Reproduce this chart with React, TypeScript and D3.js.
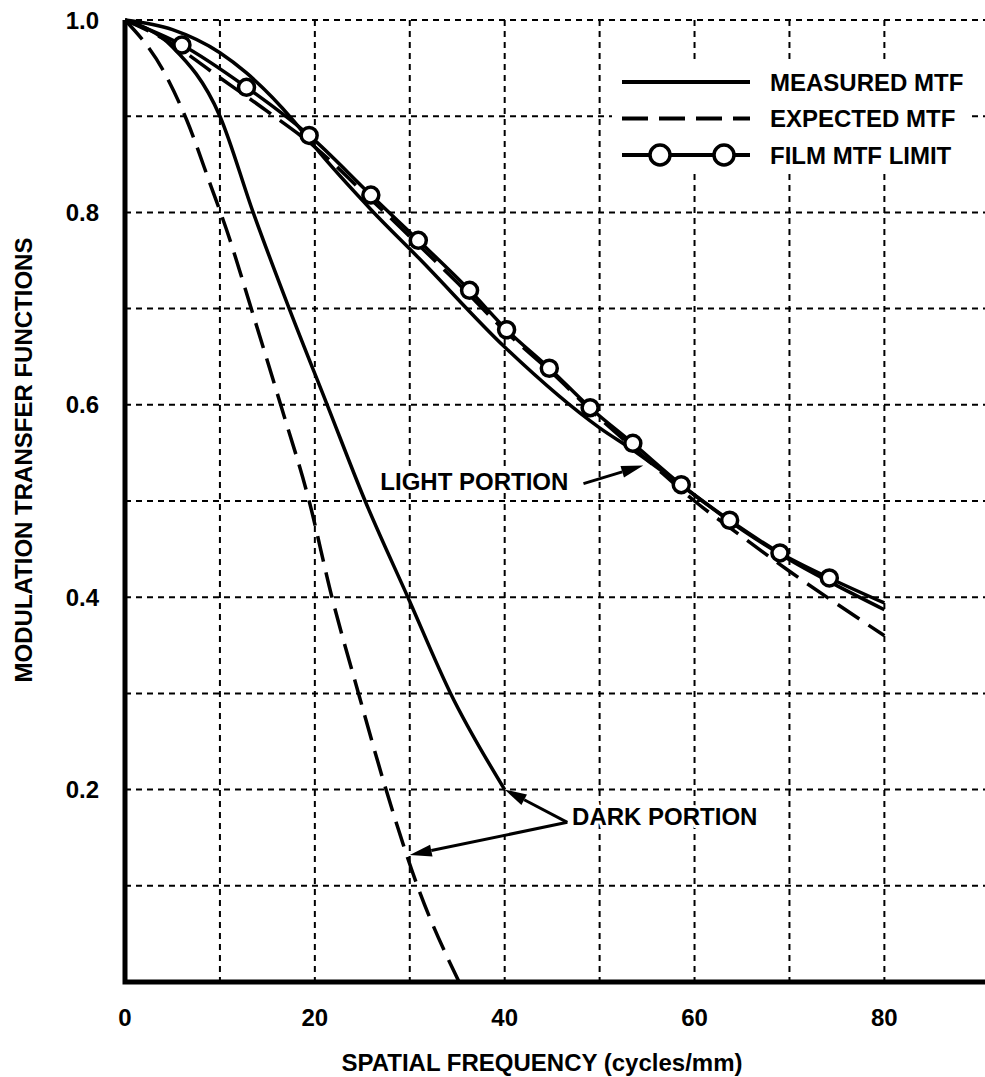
import { useEffect, useRef } from "react";
import * as d3 from "d3";

type Pt = [number, number];

// film MTF limit, circles sit on every point but the two ends
const filmLimit: Pt[] = [
  [0, 1.0], [6, 0.974], [12.8, 0.93], [19.4, 0.88], [25.9, 0.818], [30.9, 0.771],
  [36.3, 0.719], [40.2, 0.678], [44.7, 0.638], [49, 0.597], [53.5, 0.56],
  [58.6, 0.517], [63.7, 0.48], [69, 0.446], [74.2, 0.42], [80, 0.394],
];

const measuredLight: Pt[] = [
  [0, 1.0], [5, 0.99], [10, 0.966], [12.8, 0.945], [17.7, 0.896], [20, 0.868],
  [26, 0.802], [31, 0.752], [40, 0.66], [50, 0.576], [53.5, 0.553], [60, 0.506],
  [65, 0.47], [70, 0.439], [75, 0.412], [80, 0.387],
];

const expectedLight: Pt[] = [
  [0, 1.0], [5, 0.975], [10, 0.94], [15, 0.905], [20, 0.868], [25, 0.822],
  [30, 0.775], [35, 0.727], [40, 0.677], [45, 0.633], [50, 0.586], [55, 0.543],
  [60, 0.5], [65, 0.463], [70, 0.427], [75, 0.393], [80, 0.36],
];

const measuredDark: Pt[] = [
  [0, 1.0], [5, 0.972], [10, 0.9], [13.5, 0.8], [17.3, 0.7], [21.3, 0.6],
  [25.3, 0.5], [29.8, 0.4], [34.3, 0.3], [40, 0.2],
];

const expectedDark: Pt[] = [
  [0, 1.0], [4, 0.948], [6.5, 0.896], [9.1, 0.826], [10.7, 0.782], [13.3, 0.7],
  [16.4, 0.6], [19.4, 0.5], [21.8, 0.4], [24.6, 0.3], [27.5, 0.2], [30.8, 0.1],
  [35.2, 0],
];

const xTicks = [0, 20, 40, 60, 80];
const yTicks = [0.2, 0.4, 0.6, 0.8, 1.0];
const xGrid = [10, 20, 30, 40, 50, 60, 70, 80];
const yGrid = [0.1, 0.2, 0.3, 0.4, 0.5, 0.6, 0.7, 0.8, 0.9, 1.0];
const legendLabels = ["MEASURED MTF", "EXPECTED MTF", "FILM MTF LIMIT"];

const FONT = "'Liberation Sans', Arial, Helvetica, sans-serif";
const DASH = "26,11";

function MtfChart({ width = 985, height = 1077 }) {
  const svgRef = useRef<SVGSVGElement | null>(null);

  useEffect(() => {
    if (!svgRef.current) return;
    const svg = d3.select(svgRef.current);
    svg.selectAll("*").remove();

    const x = d3.scaleLinear().domain([0, 90.6]).range([125, 985]);
    const y = d3.scaleLinear().domain([0, 1]).range([982, 20]);

    const line = d3
      .line<Pt>()
      .x((d) => x(d[0]))
      .y((d) => y(d[1]))
      .curve(d3.curveMonotoneX);

    // dotted grid
    const grid = svg.append("g").attr("stroke", "#000").attr("stroke-width", 2).attr("stroke-dasharray", "6,5");
    grid.selectAll("line.v").data(xGrid).join("line").attr("class", "v")
      .attr("x1", (d) => x(d)).attr("x2", (d) => x(d))
      .attr("y1", y(1)).attr("y2", y(0));
    grid.selectAll("line.h").data(yGrid).join("line").attr("class", "h")
      .attr("x1", x(0)).attr("x2", width)
      .attr("y1", (d) => y(d)).attr("y2", (d) => y(d));

    // curves
    const curves = svg.append("g").attr("fill", "none").attr("stroke", "#000").attr("stroke-width", 3.5);
    curves.append("path").attr("d", line(expectedLight)).attr("stroke-dasharray", DASH);
    curves.append("path").attr("d", line(expectedDark)).attr("stroke-dasharray", DASH);
    curves.append("path").attr("d", line(measuredDark));
    curves.append("path").attr("d", line(measuredLight));
    curves.append("path").attr("d", line(filmLimit));

    svg.append("g").selectAll("circle").data(filmLimit.slice(1, -1)).join("circle")
      .attr("cx", (d) => x(d[0])).attr("cy", (d) => y(d[1])).attr("r", 8)
      .attr("fill", "#fff").attr("stroke", "#000").attr("stroke-width", 3.5);

    // axes
    svg.append("path")
      .attr("d", `M${x(0)},${y(1)}V${y(0)}H${width}`)
      .attr("fill", "none").attr("stroke", "#000").attr("stroke-width", 5);

    const text = (g: any) => g.attr("font-family", FONT).attr("font-weight", "bold").attr("fill", "#000");

    svg.append("g").call(text).attr("font-size", 24).attr("text-anchor", "middle")
      .selectAll("text").data(xTicks).join("text")
      .attr("x", (d) => x(d)).attr("y", 1026).text((d) => d);
    svg.append("g").call(text).attr("font-size", 24).attr("text-anchor", "end")
      .selectAll("text").data(yTicks).join("text")
      .attr("x", 99).attr("y", (d) => y(d) + 8.5).text((d) => d.toFixed(1));

    svg.append("text").call(text).attr("font-size", 24).attr("text-anchor", "middle")
      .attr("x", 542).attr("y", 1071).text("SPATIAL FREQUENCY (cycles/mm)");
    svg.append("text").call(text).attr("font-size", 24).attr("text-anchor", "middle")
      .attr("transform", "translate(32,460) rotate(-90)").text("MODULATION TRANSFER FUNCTIONS");

    // legend
    const lg = svg.append("g");
    lg.append("rect").attr("x", 612).attr("y", 60).attr("width", 356).attr("height", 112).attr("fill", "#fff");
    legendLabels.forEach((label, i) => {
      const ry = 82 + i * 36.5;
      const seg = lg.append("line").attr("x1", 622).attr("x2", 750).attr("y1", ry).attr("y2", ry)
        .attr("stroke", "#000").attr("stroke-width", 4);
      if (i === 1) seg.attr("stroke-dasharray", DASH);
      if (i === 2) {
        [660, 724].forEach((cx) =>
          lg.append("circle").attr("cx", cx).attr("cy", ry).attr("r", 10)
            .attr("fill", "#fff").attr("stroke", "#000").attr("stroke-width", 3.5));
      }
      lg.append("text").call(text).attr("font-size", 24).attr("x", 770).attr("y", ry + 8.5).text(label);
    });

    // annotations
    const arrow = (from: Pt, to: Pt) => {
      const x0 = x(from[0]), y0 = y(from[1]), x1 = x(to[0]), y1 = y(to[1]);
      const a = Math.atan2(y1 - y0, x1 - x0);
      const L = 22, w = 6;
      const bx = x1 - L * Math.cos(a), by = y1 - L * Math.sin(a);
      svg.append("line").attr("x1", x0).attr("y1", y0).attr("x2", bx).attr("y2", by)
        .attr("stroke", "#000").attr("stroke-width", 3);
      svg.append("path")
        .attr("d", `M${x1},${y1}L${bx + w * Math.sin(a)},${by - w * Math.cos(a)}L${bx - w * Math.sin(a)},${by + w * Math.cos(a)}Z`)
        .attr("fill", "#000");
    };

    const note = (label: string, at: Pt) =>
      svg.append("text").call(text).attr("font-size", 24)
        .attr("stroke", "#fff").attr("stroke-width", 6).attr("paint-order", "stroke")
        .attr("x", x(at[0])).attr("y", y(at[1])).text(label);

    note("LIGHT PORTION", [26.9, 0.511]);
    arrow([48.3, 0.518], [54.6, 0.537]);
    note("DARK PORTION", [47.1, 0.163]);
    arrow([46.6, 0.166], [40, 0.2]);
    arrow([46.6, 0.166], [30, 0.132]);
  }, [width, height]);

  return <svg ref={svgRef} width={width} height={height} style={{ display: "block" }} />;
}

export default function App() {
  return (
    <>
      <style>{`body{margin:0;background:#fff}`}</style>
      <MtfChart />
    </>
  );
}
